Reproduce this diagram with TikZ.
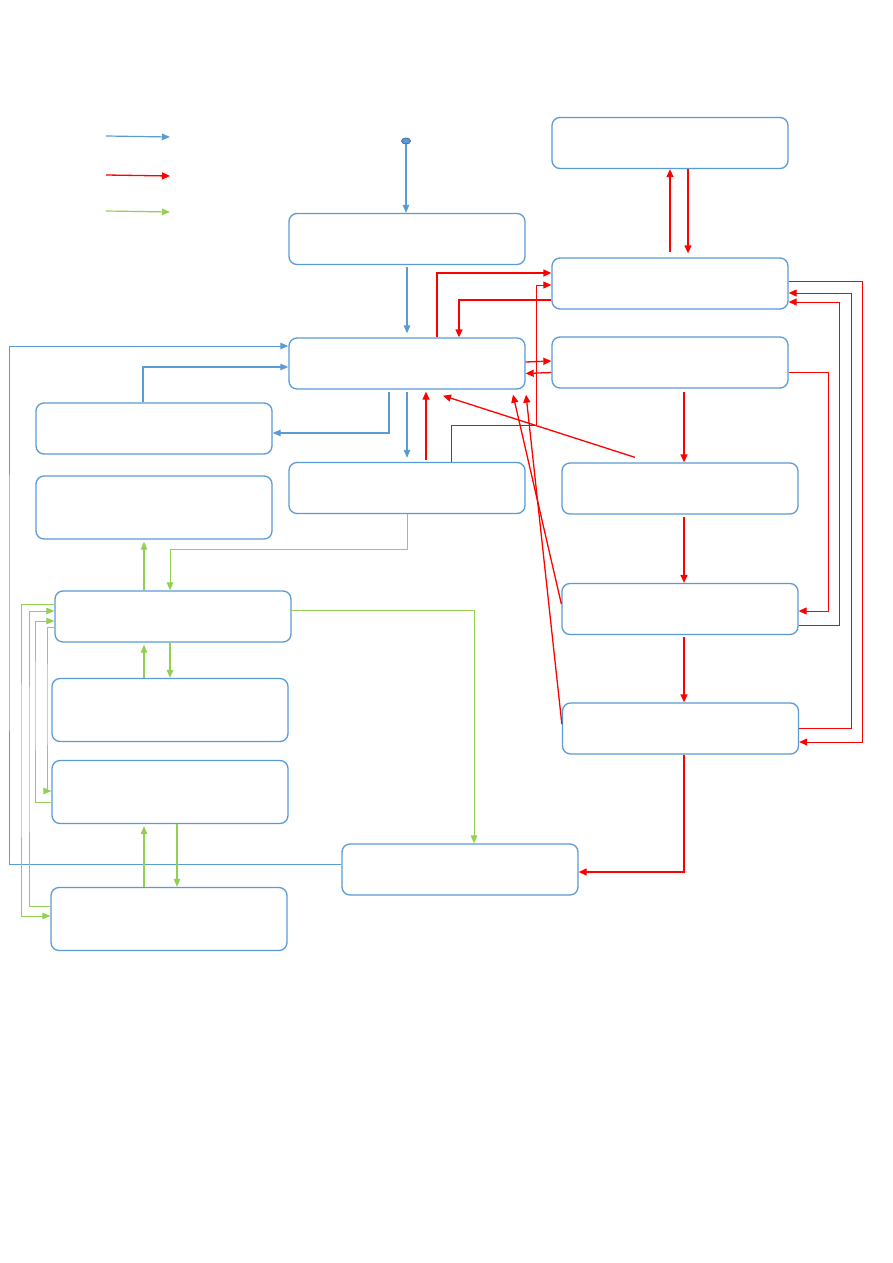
\documentclass[tikz,border=0pt]{standalone}
\usepackage{xcolor}
\usetikzlibrary{arrows.meta, shapes.geometric}
\definecolor{box-blue}{HTML}{5B9BD5}
\definecolor{dot-blue}{HTML}{41719C}
\definecolor{flow-red}{HTML}{FF0000}
\definecolor{flow-green}{HTML}{92D050}

\begin{document}
\begin{tikzpicture}[x=1pt, y=-1pt,
    stagebox/.style={draw=box-blue, line width=1.3pt, rounded corners=8pt,
      minimum width=236pt, minimum height=51pt, inner sep=0pt},
    tallbox/.style={stagebox, minimum height=63pt},
    bl/.style={draw=box-blue, line width=1.2pt, -{Triangle[length=8pt,width=6.5pt]}},
    blthin/.style={bl, line width=1pt},
    rd/.style={draw=flow-red, line width=1.3pt, -{Triangle[length=8pt,width=7pt]}},
    rdthin/.style={rd, line width=1pt},
    gr/.style={draw=flow-green, line width=1.2pt, -{Triangle[length=8pt,width=6.5pt]}},
    grthin/.style={gr, line width=1pt}]
  \path[fill=white, use as bounding box] (0,0) rectangle (893,1263);

  % key
  \coordinate (keyb1) at (106,136); \coordinate (keyb2) at (170,137);
  \coordinate (keyr1) at (106,175); \coordinate (keyr2) at (170,176);
  \coordinate (keyg1) at (106,211); \coordinate (keyg2) at (170,212);
  \draw[bl] (keyb1) -- (keyb2);
  \draw[rd] (keyr1) -- (keyr2);
  \draw[gr] (keyg1) -- (keyg2);

  % boxes
  \node[ellipse, draw=dot-blue, fill=box-blue, line width=0.8pt,
        minimum width=9pt, minimum height=6pt, inner sep=0pt] (start) at (406,141) {};
  \node[stagebox] (entry)  at (407,239) {};
  \node[stagebox] (hub)    at (407,363.5) {};
  \node[stagebox] (lower)  at (407,488) {};
  \node[stagebox] (side)   at (154,428.5) {};
  \node[tallbox]  (store)  at (154,507.5) {};
  \node[stagebox] (gmain)  at (173,616.5) {};
  \node[tallbox]  (gtwo)   at (170,710) {};
  \node[tallbox]  (gthree) at (170,792) {};
  \node[tallbox]  (gfour)  at (169,919) {};
  \node[stagebox] (finish) at (460,869.5) {};
  \node[stagebox] (rtop)   at (670,143) {};
  \node[stagebox] (rctl)   at (670,283.5) {};
  \node[stagebox] (rlink)  at (670,362.5) {};
  \node[stagebox] (rfour)  at (680,488.5) {};
  \node[stagebox] (rfive)  at (680,609) {};
  \node[stagebox] (rsix)   at (680.5,728.5) {};

  % rails for the long loops
  \coordinate (bluerail) at (9,600);
  \coordinate (redmid)   at (536,425);
  \coordinate (railA) at (828,500);
  \coordinate (railB) at (839,500);
  \coordinate (railC) at (851,500);
  \coordinate (railD) at (862,500);
  \coordinate (gA) at (21,760);
  \coordinate (gB) at (29,760);
  \coordinate (gC) at (35,700);
  \coordinate (gD) at (47,700);

  % blue flow
  \draw[bl] (start.south) -- (entry.north -| start);
  \draw[bl, shorten <=2pt, shorten >=4pt] (entry) -- (hub);
  \draw[bl, shorten <=2pt, shorten >=4pt] (hub) -- (lower);
  \draw[bl, shorten <=2pt] ([xshift=-18pt]hub.south) |- ([yshift=-4.5pt]side.east);
  \draw[bl] ([xshift=-11pt]side.north) |- ([yshift=-3.5pt]hub.west);
  \draw[blthin] ([yshift=5.5pt]finish.west) -| (bluerail) |- ([yshift=17.5pt]hub.west);

  % red flow
  \draw[rd, shorten <=5pt] (rctl.north) -- (rtop.south);
  \draw[rd, shorten >=4pt] ([xshift=18pt]rtop.south) -- ([xshift=18pt]rctl.north);
  \draw[rd] ([xshift=30pt]hub.north) |- ([yshift=10.5pt]rctl.west);
  \draw[rd] ([yshift=-16.5pt]rctl.west) -| ([xshift=52pt]hub.north);
  \draw[rdthin] ([xshift=44pt]lower.north) |- (redmid) |- ([yshift=-1.5pt]rctl.west);
  \draw[rd, shorten <=2pt, shorten >=2pt] ([xshift=19pt]lower.north) -- ([xshift=19pt]hub.south);
  \draw[rd] ([yshift=1.5pt]hub.east) -- ([yshift=1.5pt]rlink.west);
  \draw[rd] ([yshift=-10pt]rlink.west) -- ([yshift=-10pt]hub.east);
  \draw[rd] ([shift={(-45pt,5pt)}]rfour.north) -- ([shift={(36pt,-6pt)}]hub.south);
  \draw[rd] ([yshift=5pt]rfive.west) -- ([shift={(106pt,-5pt)}]hub.south);
  \draw[rd] ([yshift=4.5pt]rsix.west) -- ([shift={(119pt,-5pt)}]hub.south);
  \draw[rd, shorten <=3pt] ([xshift=14pt]rlink.south) -- ([xshift=4pt]rfour.north);
  \draw[rd, shorten <=2pt] ([xshift=4pt]rfour.south) -- ([xshift=4pt]rfive.north);
  \draw[rd, shorten <=2pt] ([xshift=4pt]rfive.south) -- ([xshift=3.5pt]rsix.north);
  \draw[rd] ([xshift=3.5pt]rsix.south) |- ([yshift=-2.5pt]finish.east);
  \draw[rdthin] ([yshift=-9.5pt]rlink.east) -| (railA) |- ([yshift=-2pt]rfive.east);
  \draw[rdthin] ([yshift=-16pt]rfive.east) -| (railB) |- ([yshift=-18.5pt]rctl.east);
  \draw[rdthin] ([yshift=0.5pt]rsix.east) -| (railC) |- ([yshift=-9.5pt]rctl.east);
  \draw[rdthin] ([yshift=2.5pt]rctl.east) -| (railD) |- ([yshift=-13.5pt]rsix.east);

  % green flow
  \draw[grthin] (lower.south) -- ++(0,35) -| ([xshift=-3pt]gmain.north);
  \draw[gr, shorten >=2pt] ([xshift=-29pt]gmain.north) -- ([xshift=-10pt]store.south);
  \draw[gr, shorten >=2pt] ([xshift=-26pt]gtwo.north) -- ([xshift=-29pt]gmain.south);
  \draw[gr] ([xshift=-3pt]gmain.south) -- (gtwo.north);
  \draw[gr, shorten >=2pt] ([xshift=-25pt]gfour.north) -- ([xshift=-26pt]gthree.south);
  \draw[gr] ([xshift=7pt]gthree.south) -- ([xshift=8pt]gfour.north);
  \draw[grthin] ([yshift=6.5pt]gmain.east) -| ([xshift=14pt]finish.north);
  \draw[grthin] ([yshift=12.5pt]gmain.west) -| (gA) |- ([yshift=3pt]gfour.west);
  \draw[grthin] ([yshift=13pt]gfour.west) -| (gB) |- ([yshift=5.5pt]gmain.west);
  \draw[grthin] ([yshift=-10pt]gthree.west) -| (gC) |- ([yshift=-4.5pt]gmain.west);
  \draw[grthin] ([yshift=-10.5pt]gmain.west) -| (gD) |- ([yshift=1pt]gthree.west);
\end{tikzpicture}
\end{document}
